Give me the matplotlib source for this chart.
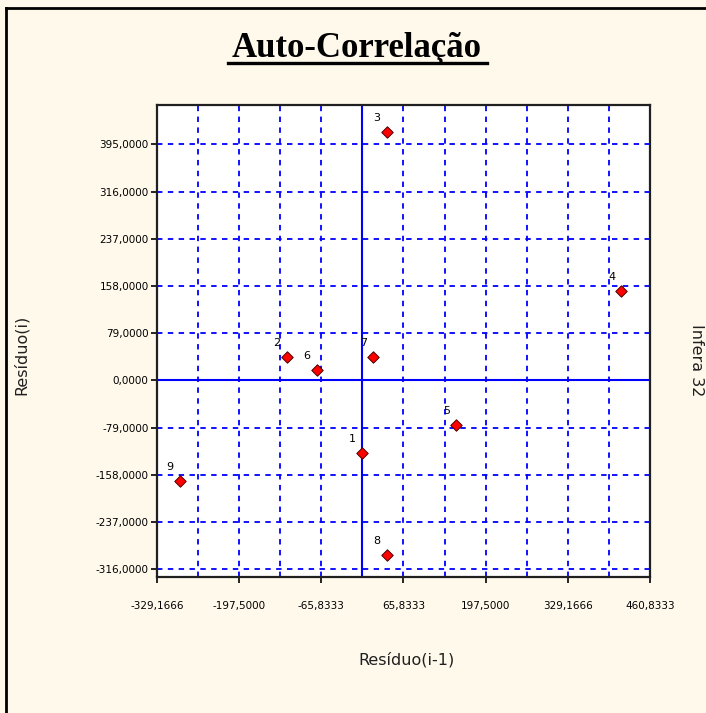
import matplotlib
matplotlib.use("Agg")
import matplotlib.pyplot as plt
from matplotlib.lines import Line2D

# Dados: resíduo(i-1) x resíduo(i)
pontos = ["1", "2", "3", "4", "5", "6", "7", "8", "9"]
residuo_ant = [0.0, -121.0, 39.0, 415.0, 150.0, -73.0, 17.0, 39.0, -293.0]
residuo_atual = [-122.0, 39.0, 415.5, 150.0, -74.0, 18.0, 39.0, -292.5, -169.0]

x_ticks = [-329.1666, -197.5, -65.8333, 65.8333, 197.5, 329.1666, 460.8333]
x_labels = ["-329,1666", "-197,5000", "-65,8333", "65,8333", "197,5000", "329,1666", "460,8333"]
x_grid = [-263.3333, -197.5, -131.6666, -65.8333, 65.8333, 131.6666, 197.5,
          263.3333, 329.1666, 395.0]
y_ticks = [-316, -237, -158, -79, 0, 79, 158, 237, 316, 395]
y_labels = ["-316,0000", "-237,0000", "-158,0000", "-79,0000", "0,0000",
            "79,0000", "158,0000", "237,0000", "316,0000", "395,0000"]

fundo = "#FFF9EC"
azul = "#0000FF"

fig = plt.figure(figsize=(7.06, 7.13), dpi=100, facecolor=fundo)
ax = fig.add_axes([157 / 706, 1 - 577 / 713, 493 / 706, 472 / 713])
ax.set_facecolor("white")

# grade tracejada
for gx in x_grid:
    ax.axvline(gx, color=azul, lw=1.3, linestyle=(0, (3, 3)), zorder=1)
for gy in y_ticks:
    if gy != 0:
        ax.axhline(gy, color=azul, lw=1.3, linestyle=(0, (3, 3)), zorder=1)
# eixos em zero
ax.axvline(0, color=azul, lw=1.5, zorder=2)
ax.axhline(0, color=azul, lw=1.5, zorder=2)

ax.scatter(residuo_ant, residuo_atual, marker="D", s=34, color="#FF0000",
           edgecolor="#500000", linewidth=0.7, zorder=4)
for lbl, x, y in zip(pontos, residuo_ant, residuo_atual):
    ax.annotate(lbl, (x, y), xytext=(-7, 10), textcoords="offset points",
                ha="center", va="center", fontsize=8, color="black", zorder=5)

ax.set_xlim(-329.1666, 460.8333)
ax.set_ylim(-329.1666, 460.8333)
ax.set_xticks(x_ticks)
ax.set_xticklabels(x_labels)
ax.set_yticks(y_ticks)
ax.set_yticklabels(y_labels)
ax.tick_params(axis="x", length=4, width=1.2, pad=13, labelsize=7.5)
ax.tick_params(axis="y", length=4, width=1.2, pad=2, labelsize=7.5)
for s in ax.spines.values():
    s.set_linewidth(1.6)
    s.set_color("#202020")

fig.text(357 / 706, 1 - 57 / 713, "Auto-Correlação", ha="center", va="baseline",
         fontsize=25, fontweight="bold", family="Liberation Serif")
fig.add_artist(Line2D([228 / 706, 487 / 706], [1 - 63 / 713, 1 - 63 / 713],
                      color="black", lw=2.4))

fig.text(406 / 706, 1 - 660 / 713, "Resíduo(i-1)", ha="center", va="center",
         fontsize=11.5, color="#202020")
fig.text(21 / 706, 1 - 355 / 713, "Resíduo(i)", ha="center", va="center",
         fontsize=11.5, rotation=90, color="#202020")
fig.text(697 / 706, 1 - 360 / 713, "Infera 32", ha="center", va="center",
         fontsize=11.5, rotation=-90, color="#202020")

# moldura da janela
fig.add_artist(Line2D([6 / 706, 1.0], [1 - 8 / 713, 1 - 8 / 713], color="black", lw=2))
fig.add_artist(Line2D([6 / 706, 6 / 706], [0.0, 1 - 8 / 713], color="black", lw=2))

fig.savefig("out.png", dpi=100, facecolor=fundo)
